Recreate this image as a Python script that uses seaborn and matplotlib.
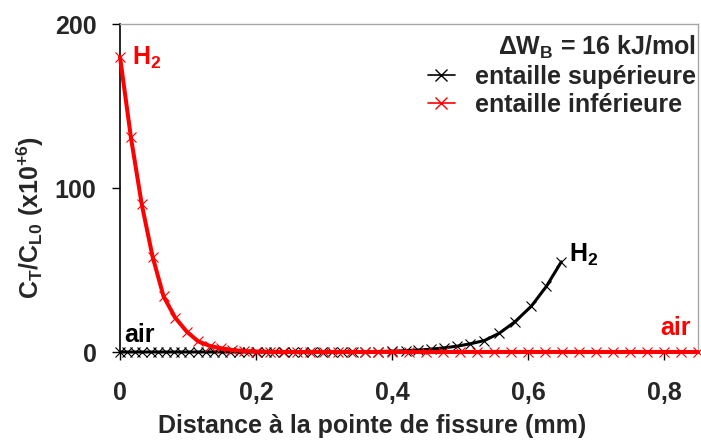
import matplotlib
matplotlib.use("Agg")
import matplotlib.pyplot as plt
from matplotlib.lines import Line2D
from matplotlib.ticker import FuncFormatter
import seaborn as sns
import pandas as pd

# Upper notch profile (distance in mm, C_T/C_L0 in units of 1e6)
x_sup = [0.0, 0.011, 0.022, 0.033, 0.045, 0.056, 0.067, 0.079, 0.090, 0.102,
         0.114, 0.126, 0.138, 0.150, 0.162, 0.175, 0.188, 0.201, 0.214, 0.227,
         0.241, 0.255, 0.269, 0.283, 0.297, 0.312, 0.327, 0.342, 0.360, 0.380,
         0.400, 0.420, 0.438, 0.457, 0.476, 0.495, 0.515, 0.536, 0.558, 0.581,
         0.605, 0.627, 0.649]
c_sup = [0.0, 0.0, 0.0, 0.0, 0.0, 0.0, 0.0, 0.0, 0.0, 0.0,
         0.0, 0.0, 0.0, 0.0, 0.0, 0.0, 0.0, 0.0, 0.0, 0.0,
         0.0, 0.0, 0.0, 0.0, 0.05, 0.05, 0.08, 0.1, 0.15, 0.3,
         0.5, 0.8, 1.2, 1.7, 2.5, 3.5, 5.0, 7.0, 11.5, 18.5,
         28.0, 40.0, 55.0]

# Lower notch profile
x_inf = [0.0, 0.016, 0.032, 0.048, 0.064, 0.081, 0.098, 0.115, 0.132, 0.149,
         0.165, 0.182, 0.200, 0.220, 0.240, 0.260, 0.280, 0.300, 0.320, 0.340,
         0.360, 0.380, 0.400, 0.425, 0.450, 0.475, 0.500, 0.525, 0.550, 0.575,
         0.600, 0.625, 0.650, 0.675, 0.700, 0.725, 0.750, 0.775, 0.800, 0.825,
         0.850]
c_inf = [180.0, 131.0, 90.0, 58.0, 34.0, 21.0, 12.5, 6.5, 3.7, 2.2,
         1.2, 0.6, 0.3, 0.1, 0.0, 0.0, 0.0, 0.0, 0.0, 0.0,
         0.0, 0.0, 0.0, 0.0, 0.0, 0.0, 0.0, 0.0, 0.0, 0.0,
         0.0, 0.0, 0.0, 0.0, 0.0, 0.0, 0.0, 0.0, 0.0, 0.0,
         0.0]

label_sup = "entaille supérieure"
label_inf = "entaille inférieure"
legend_title = "ΔW$_{B}$ = 16 kJ/mol"
x_ticks = [0.0, 0.2, 0.4, 0.6, 0.8]
y_ticks = [0, 100, 200]

sns.set_theme(style="white")
plt.rcParams["font.family"] = ["Liberation Sans", "DejaVu Sans"]
plt.rcParams["font.weight"] = "bold"
plt.rcParams["mathtext.fontset"] = "custom"
plt.rcParams["mathtext.rm"] = "Liberation Sans:bold"
plt.rcParams["mathtext.it"] = "Liberation Sans:bold"
plt.rcParams["mathtext.bf"] = "Liberation Sans:bold"
plt.rcParams["mathtext.default"] = "rm"

FS = 18

fig = plt.figure(figsize=(7.01, 4.41), dpi=100)
ax = fig.add_axes([120 / 701, 89 / 441, 578 / 701, 328 / 441])

df_sup = pd.DataFrame({"x": x_sup, "c": c_sup})
df_inf = pd.DataFrame({"x": x_inf, "c": c_inf})

mk = dict(marker="x", markersize=7, markeredgewidth=0.8)
sns.lineplot(data=df_sup, x="x", y="c", ax=ax, color="black", linewidth=2.2,
             markeredgecolor="black", clip_on=False, zorder=3, **mk)
sns.lineplot(data=df_inf, x="x", y="c", ax=ax, color="#ff0000", linewidth=2.9,
             markeredgecolor="#ff0000", clip_on=False, zorder=4, **mk)

ax.set_xlim(0, 0.85)
ax.set_ylim(0, 200)
ax.set_xticks(x_ticks)
ax.set_yticks(y_ticks)
ax.xaxis.set_major_formatter(FuncFormatter(lambda v, p: "0" if v == 0 else f"{v:.1f}".replace(".", ",")))
ax.tick_params(axis="both", which="major", labelsize=FS, direction="out",
               length=6, width=1, color="black", bottom=True, left=True)
ax.tick_params(axis="x", pad=15)
ax.tick_params(axis="y", pad=11)

for side in ("top", "right"):
    ax.spines[side].set_color("#a6a6a6")
    ax.spines[side].set_linewidth(1.0)
for side in ("left", "bottom"):
    ax.spines[side].set_color("black")
    ax.spines[side].set_linewidth(1.2)

ax.set_xlabel("Distance à la pointe de fissure (mm)", fontsize=FS, fontweight="bold")
ax.xaxis.label.set_va("center")
ax.xaxis.set_label_coords(0.437, -0.226)
ax.set_ylabel("C$_{T}$/C$_{L0}$ (x10$^{+6}$)", fontsize=FS, fontweight="bold")
ax.yaxis.label.set_va("center")
ax.yaxis.set_label_coords(-0.156, 0.409)

ax.text(0.017, 175, "H$_{2}$", color="#ff0000", fontsize=FS, fontweight="bold", ha="left", va="baseline")
ax.text(0.006, 6.3, "air", color="black", fontsize=FS, fontweight="bold", ha="left", va="baseline")
ax.text(0.66, 55, "H$_{2}$", color="black", fontsize=FS, fontweight="bold", ha="left", va="baseline")
ax.text(0.794, 10.4, "air", color="#ff0000", fontsize=FS, fontweight="bold", ha="left", va="baseline")

handles = [
    Line2D([], [], color="black", linewidth=1.2, marker="x", markersize=8, markeredgewidth=1.0),
    Line2D([], [], color="#ff0000", linewidth=1.2, marker="x", markersize=8, markeredgewidth=1.0),
]
leg = ax.legend(handles, [label_sup, label_inf], title=legend_title, loc="upper right",
                bbox_to_anchor=(1.014, 1.0), frameon=False, fontsize=FS,
                title_fontproperties={"size": FS, "weight": "bold"}, alignment="right",
                handlelength=1.1, handletextpad=0.8, labelspacing=0.15,
                borderaxespad=0.2, borderpad=0.2)

ax.set_facecolor("white")
fig.patch.set_facecolor("white")
fig.savefig("out.png", dpi=100)
